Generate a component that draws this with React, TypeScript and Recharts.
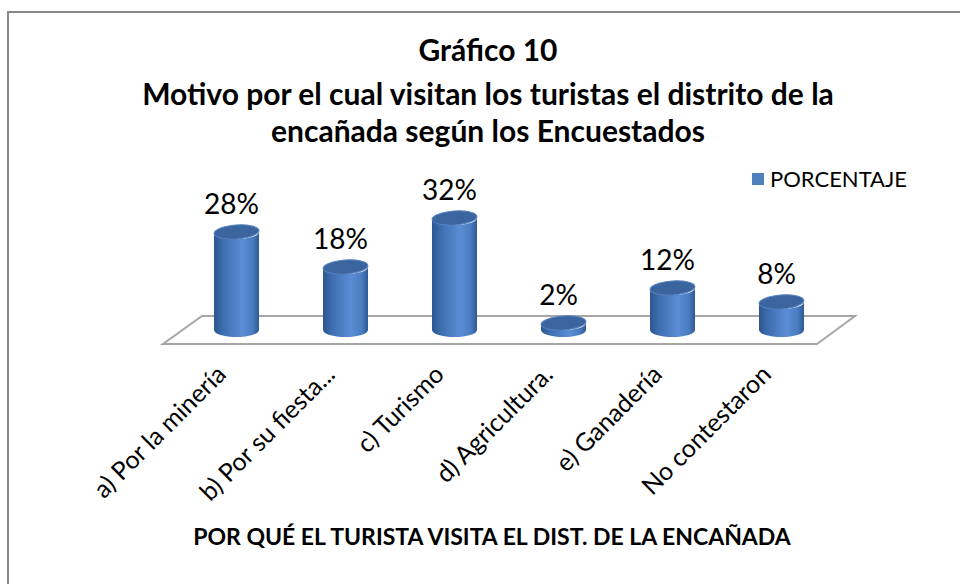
import React from "react";
import { BarChart, Bar, XAxis, YAxis, ReferenceArea } from "recharts";

const categories = [
  "a) Por la minería",
  "b) Por su fiesta...",
  "c) Turismo",
  "d) Agricultura.",
  "e) Ganadería",
  "No contestaron",
];
const porcentaje = [28, 18, 32, 2, 12, 8];
const titleLines = [
  "Gráfico 10",
  "Motivo por el cual visitan los turistas el distrito de la",
  "encañada según los Encuestados",
];
const axisTitle = "POR QUÉ EL TURISTA VISITA EL DIST. DE LA ENCAÑADA";
const seriesName = "PORCENTAJE";

const data = categories.map((name, i) => ({ name, PORCENTAJE: porcentaje[i] }));

const FONT = "Lato, 'Open Sans', sans-serif";

const Cylinder = (props: any) => {
  const { x, y, width, height, index, value } = props;
  const rx = width / 2;
  const ry = 7;
  const cx = x + rx;
  const top = y;
  const bot = y + height;
  const id = `cyl-grad-${index}`;
  const body = `M ${x} ${top} L ${x} ${bot} A ${rx} ${ry} 0 0 0 ${x + width} ${bot} L ${x + width} ${top} A ${rx} ${ry} 0 0 1 ${x} ${top} Z`;
  return (
    <g>
      <defs>
        <linearGradient id={id} x1="0" y1="0" x2="1" y2="0">
          <stop offset="0" stopColor="#2b5690" />
          <stop offset="0.2" stopColor="#3e6eaf" />
          <stop offset="0.62" stopColor="#5a8dd5" />
          <stop offset="0.86" stopColor="#4a7cc0" />
          <stop offset="1" stopColor="#2e5993" />
        </linearGradient>
      </defs>
      <path d={body} fill={`url(#${id})`} />
      <ellipse
        cx={cx}
        cy={top}
        rx={rx}
        ry={ry}
        fill="#3a659f"
        stroke="#5682c0"
        strokeWidth={1}
        transform={`rotate(-4 ${cx} ${top})`}
      />
      <text
        x={cx - 5}
        y={top - 18}
        textAnchor="middle"
        fontFamily={FONT}
        fontSize={28}
        fill="#000"
      >
        {`${value}%`}
      </text>
    </g>
  );
};

const Floor = (props: any) => {
  const { x, y, width, height } = props;
  const base = y + height;
  const dx = 19;
  const dy = 14;
  const pts = [
    [x + dx + 1, base - dy],
    [x + width + dx, base - dy],
    [x + width - dx, base + dy],
    [x - dx, base + dy],
  ]
    .map((p) => p.join(","))
    .join(" ");
  return <polygon points={pts} fill="#ffffff" stroke="#a6a6a6" strokeWidth={2} />;
};

const AxisTick = (props: any) => {
  const { x, payload } = props;
  const px = x - 9;
  const py = 376;
  return (
    <text
      x={px}
      y={py}
      textAnchor="end"
      fontFamily={FONT}
      fontSize={25}
      fill="#000"
      transform={`rotate(-45 ${px} ${py})`}
    >
      {payload.value}
    </text>
  );
};

export default function App() {
  return (
    <div
      style={{
        position: "fixed",
        left: 0,
        top: 0,
        width: 960,
        height: 584,
        overflow: "hidden",
        background: "#fff",
      }}
    >
      <div
        style={{
          position: "absolute",
          left: 7,
          top: 11,
          width: 1100,
          height: 1100,
          borderLeft: "2px solid #878787",
          borderTop: "2px solid #878787",
        }}
      />
      <svg
        width={960}
        height={584}
        style={{ position: "absolute", left: 0, top: 0 }}
      >
        <g fontFamily={FONT} fontWeight="bold" fill="#000" textAnchor="middle">
          <text x={488} y={61} fontSize={30}>{titleLines[0]}</text>
          <text x={488} y={105} fontSize={30}>{titleLines[1]}</text>
          <text x={488} y={142} fontSize={30}>{titleLines[2]}</text>
          <text x={492} y={545} fontSize={23}>{axisTitle}</text>
        </g>
        <rect x={752} y={173} width={12} height={12} fill="#4f81bd" />
        <text x={770} y={187} fontFamily={FONT} fontSize={22} fill="#000">
          {seriesName}
        </text>
      </svg>
      <div style={{ position: "absolute", left: 0, top: 0 }}>
        <BarChart
          width={960}
          height={584}
          data={data}
          margin={{ top: 190, right: 124, left: 182, bottom: 224 }}
        >
          <XAxis
            dataKey="name"
            height={30}
            axisLine={false}
            tickLine={false}
            interval={0}
            tick={<AxisTick />}
          />
          <YAxis hide domain={[0, 40]} />
          <ReferenceArea
            x1={categories[0]}
            x2={categories[categories.length - 1]}
            y1={0}
            y2={1}
            ifOverflow="visible"
            shape={<Floor />}
          />
          <Bar
            dataKey="PORCENTAJE"
            name={seriesName}
            fill="#4f81bd"
            barSize={45}
            shape={<Cylinder />}
            isAnimationActive={false}
          />
        </BarChart>
      </div>
    </div>
  );
}
